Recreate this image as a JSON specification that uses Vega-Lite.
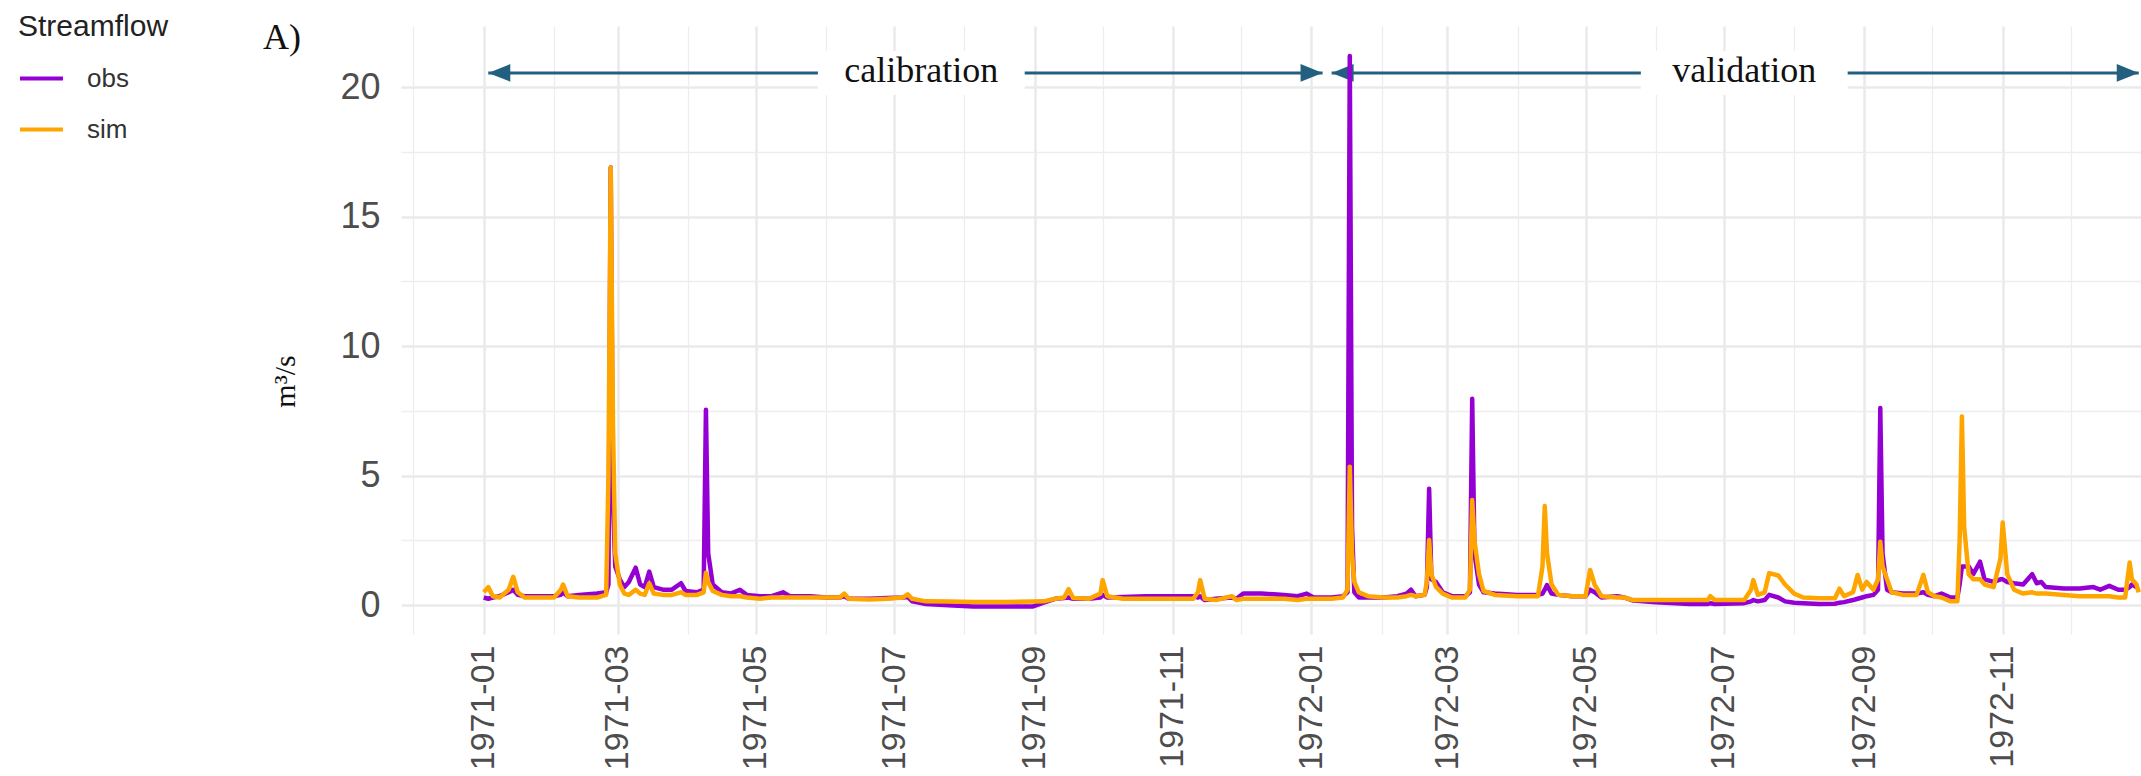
{
  "$schema": "https://vega.github.io/schema/vega-lite/v6.json",
  "width": 1740,
  "height": 608,
  "autosize": {"type": "none"},
  "padding": {"left": 401, "top": 26, "right": 0, "bottom": 142},
  "background": "white",
  "config": {"view": {"stroke": null}, "font": "Liberation Sans"},
  "title": {"text": "A)", "anchor": "start", "frame": "group", "font": "Liberation Serif", "fontSize": 36, "fontWeight": "normal", "color": "#111111", "dx": -138, "dy": 73, "offset": 0, "baseline": "alphabetic"},
  "datasets": {
    "flow": [
      {"date": "1971-01-01", "obs": 0.3, "sim": 0.5},
      {"date": "1971-01-03", "obs": 0.25, "sim": 0.7},
      {"date": "1971-01-05", "obs": 0.3, "sim": 0.35},
      {"date": "1971-01-08", "obs": 0.35, "sim": 0.3},
      {"date": "1971-01-12", "obs": 0.5, "sim": 0.6},
      {"date": "1971-01-14", "obs": 0.6, "sim": 1.1},
      {"date": "1971-01-16", "obs": 0.4, "sim": 0.5},
      {"date": "1971-01-19", "obs": 0.35, "sim": 0.3},
      {"date": "1971-01-25", "obs": 0.35, "sim": 0.3},
      {"date": "1971-02-01", "obs": 0.35, "sim": 0.3},
      {"date": "1971-02-04", "obs": 0.4, "sim": 0.6},
      {"date": "1971-02-05", "obs": 0.5, "sim": 0.8},
      {"date": "1971-02-07", "obs": 0.35, "sim": 0.35},
      {"date": "1971-02-12", "obs": 0.4, "sim": 0.3},
      {"date": "1971-02-20", "obs": 0.45, "sim": 0.3},
      {"date": "1971-02-24", "obs": 0.5, "sim": 0.4},
      {"date": "1971-02-25", "obs": 0.8, "sim": 5.0},
      {"date": "1971-02-26", "obs": 16.9, "sim": 16.9},
      {"date": "1971-02-27", "obs": 4.0, "sim": 7.0},
      {"date": "1971-02-28", "obs": 1.5, "sim": 2.0},
      {"date": "1971-03-02", "obs": 1.0, "sim": 0.8},
      {"date": "1971-03-04", "obs": 0.7, "sim": 0.45},
      {"date": "1971-03-06", "obs": 0.9, "sim": 0.4},
      {"date": "1971-03-09", "obs": 1.45, "sim": 0.6},
      {"date": "1971-03-11", "obs": 0.8, "sim": 0.45},
      {"date": "1971-03-13", "obs": 0.7, "sim": 0.4},
      {"date": "1971-03-15", "obs": 1.3, "sim": 0.85},
      {"date": "1971-03-17", "obs": 0.7, "sim": 0.45},
      {"date": "1971-03-21", "obs": 0.6, "sim": 0.4},
      {"date": "1971-03-25", "obs": 0.6, "sim": 0.4},
      {"date": "1971-03-29", "obs": 0.85, "sim": 0.5},
      {"date": "1971-03-31", "obs": 0.55, "sim": 0.4},
      {"date": "1971-04-05", "obs": 0.5, "sim": 0.4},
      {"date": "1971-04-08", "obs": 0.6, "sim": 0.5},
      {"date": "1971-04-09", "obs": 7.55, "sim": 1.25},
      {"date": "1971-04-10", "obs": 2.0, "sim": 0.9},
      {"date": "1971-04-12", "obs": 0.8, "sim": 0.55},
      {"date": "1971-04-16", "obs": 0.5, "sim": 0.4},
      {"date": "1971-04-20", "obs": 0.45, "sim": 0.35},
      {"date": "1971-04-24", "obs": 0.6, "sim": 0.35},
      {"date": "1971-04-27", "obs": 0.4, "sim": 0.3},
      {"date": "1971-05-03", "obs": 0.35, "sim": 0.25},
      {"date": "1971-05-08", "obs": 0.35, "sim": 0.3},
      {"date": "1971-05-13", "obs": 0.5, "sim": 0.3},
      {"date": "1971-05-16", "obs": 0.35, "sim": 0.3},
      {"date": "1971-05-25", "obs": 0.35, "sim": 0.3},
      {"date": "1971-06-01", "obs": 0.3, "sim": 0.3},
      {"date": "1971-06-07", "obs": 0.3, "sim": 0.3},
      {"date": "1971-06-09", "obs": 0.35, "sim": 0.45},
      {"date": "1971-06-11", "obs": 0.25, "sim": 0.25},
      {"date": "1971-06-20", "obs": 0.25, "sim": 0.22},
      {"date": "1971-06-28", "obs": 0.28, "sim": 0.25},
      {"date": "1971-07-05", "obs": 0.3, "sim": 0.3},
      {"date": "1971-07-07", "obs": 0.32, "sim": 0.42},
      {"date": "1971-07-09", "obs": 0.15, "sim": 0.25},
      {"date": "1971-07-15", "obs": 0.05, "sim": 0.15},
      {"date": "1971-07-25", "obs": 0.0, "sim": 0.14},
      {"date": "1971-08-05", "obs": -0.05, "sim": 0.13},
      {"date": "1971-08-20", "obs": -0.05, "sim": 0.13},
      {"date": "1971-08-31", "obs": -0.05, "sim": 0.14},
      {"date": "1971-09-05", "obs": 0.1, "sim": 0.15},
      {"date": "1971-09-10", "obs": 0.25, "sim": 0.25},
      {"date": "1971-09-14", "obs": 0.28, "sim": 0.3},
      {"date": "1971-09-16", "obs": 0.3, "sim": 0.62},
      {"date": "1971-09-18", "obs": 0.25, "sim": 0.28},
      {"date": "1971-09-25", "obs": 0.25, "sim": 0.25},
      {"date": "1971-09-30", "obs": 0.3, "sim": 0.45},
      {"date": "1971-10-01", "obs": 0.4, "sim": 0.97},
      {"date": "1971-10-03", "obs": 0.3, "sim": 0.35},
      {"date": "1971-10-10", "obs": 0.32, "sim": 0.25},
      {"date": "1971-10-20", "obs": 0.35, "sim": 0.25},
      {"date": "1971-10-30", "obs": 0.35, "sim": 0.25},
      {"date": "1971-11-10", "obs": 0.35, "sim": 0.25},
      {"date": "1971-11-12", "obs": 0.3, "sim": 0.5},
      {"date": "1971-11-13", "obs": 0.35, "sim": 0.97},
      {"date": "1971-11-15", "obs": 0.2, "sim": 0.25},
      {"date": "1971-11-20", "obs": 0.25, "sim": 0.2},
      {"date": "1971-11-27", "obs": 0.3, "sim": 0.35},
      {"date": "1971-11-29", "obs": 0.25, "sim": 0.2},
      {"date": "1971-12-02", "obs": 0.45, "sim": 0.25},
      {"date": "1971-12-10", "obs": 0.45, "sim": 0.25},
      {"date": "1971-12-20", "obs": 0.4, "sim": 0.25},
      {"date": "1971-12-26", "obs": 0.35, "sim": 0.2},
      {"date": "1971-12-30", "obs": 0.45, "sim": 0.25},
      {"date": "1972-01-02", "obs": 0.3, "sim": 0.25},
      {"date": "1972-01-10", "obs": 0.3, "sim": 0.25},
      {"date": "1972-01-15", "obs": 0.35, "sim": 0.3},
      {"date": "1972-01-17", "obs": 0.5, "sim": 0.6},
      {"date": "1972-01-18", "obs": 21.2, "sim": 5.35},
      {"date": "1972-01-19", "obs": 3.0, "sim": 2.0},
      {"date": "1972-01-20", "obs": 0.5, "sim": 0.9},
      {"date": "1972-01-22", "obs": 0.3, "sim": 0.5},
      {"date": "1972-01-26", "obs": 0.3, "sim": 0.35},
      {"date": "1972-02-02", "obs": 0.3, "sim": 0.3},
      {"date": "1972-02-08", "obs": 0.35, "sim": 0.3},
      {"date": "1972-02-12", "obs": 0.45, "sim": 0.35},
      {"date": "1972-02-14", "obs": 0.6, "sim": 0.4},
      {"date": "1972-02-16", "obs": 0.35, "sim": 0.35},
      {"date": "1972-02-20", "obs": 0.4, "sim": 0.4},
      {"date": "1972-02-21", "obs": 0.7, "sim": 0.9},
      {"date": "1972-02-22", "obs": 4.5, "sim": 2.52},
      {"date": "1972-02-23", "obs": 1.0, "sim": 1.2},
      {"date": "1972-02-25", "obs": 0.9, "sim": 0.71},
      {"date": "1972-02-28", "obs": 0.5, "sim": 0.45},
      {"date": "1972-03-03", "obs": 0.35, "sim": 0.3},
      {"date": "1972-03-09", "obs": 0.35, "sim": 0.3},
      {"date": "1972-03-11", "obs": 0.5, "sim": 0.6},
      {"date": "1972-03-12", "obs": 7.97, "sim": 4.06},
      {"date": "1972-03-13", "obs": 2.0, "sim": 2.5},
      {"date": "1972-03-15", "obs": 0.8, "sim": 1.2},
      {"date": "1972-03-17", "obs": 0.5, "sim": 0.55},
      {"date": "1972-03-22", "obs": 0.45, "sim": 0.4},
      {"date": "1972-04-01", "obs": 0.4, "sim": 0.35},
      {"date": "1972-04-10", "obs": 0.4, "sim": 0.35},
      {"date": "1972-04-12", "obs": 0.45, "sim": 1.5},
      {"date": "1972-04-13", "obs": 0.6, "sim": 3.83},
      {"date": "1972-04-14", "obs": 0.78, "sim": 2.0},
      {"date": "1972-04-16", "obs": 0.45, "sim": 0.8},
      {"date": "1972-04-19", "obs": 0.4, "sim": 0.4},
      {"date": "1972-04-25", "obs": 0.35, "sim": 0.35},
      {"date": "1972-05-01", "obs": 0.35, "sim": 0.35},
      {"date": "1972-05-03", "obs": 0.6, "sim": 1.36},
      {"date": "1972-05-05", "obs": 0.5, "sim": 0.8},
      {"date": "1972-05-08", "obs": 0.3, "sim": 0.35},
      {"date": "1972-05-15", "obs": 0.35, "sim": 0.3},
      {"date": "1972-05-18", "obs": 0.3, "sim": 0.3},
      {"date": "1972-05-22", "obs": 0.18, "sim": 0.2},
      {"date": "1972-06-01", "obs": 0.12, "sim": 0.2},
      {"date": "1972-06-16", "obs": 0.05, "sim": 0.2},
      {"date": "1972-06-24", "obs": 0.05, "sim": 0.2},
      {"date": "1972-06-25", "obs": 0.08, "sim": 0.35},
      {"date": "1972-06-27", "obs": 0.05, "sim": 0.2},
      {"date": "1972-07-10", "obs": 0.08, "sim": 0.2},
      {"date": "1972-07-13", "obs": 0.15, "sim": 0.6},
      {"date": "1972-07-14", "obs": 0.2, "sim": 0.97},
      {"date": "1972-07-16", "obs": 0.15, "sim": 0.4},
      {"date": "1972-07-19", "obs": 0.2, "sim": 0.5},
      {"date": "1972-07-21", "obs": 0.4, "sim": 1.24},
      {"date": "1972-07-25", "obs": 0.3, "sim": 1.15},
      {"date": "1972-07-28", "obs": 0.15, "sim": 0.8},
      {"date": "1972-08-01", "obs": 0.1, "sim": 0.45},
      {"date": "1972-08-05", "obs": 0.08, "sim": 0.3},
      {"date": "1972-08-12", "obs": 0.05, "sim": 0.27},
      {"date": "1972-08-19", "obs": 0.06, "sim": 0.27},
      {"date": "1972-08-21", "obs": 0.1, "sim": 0.64},
      {"date": "1972-08-23", "obs": 0.12, "sim": 0.35},
      {"date": "1972-08-27", "obs": 0.2, "sim": 0.5},
      {"date": "1972-08-29", "obs": 0.25, "sim": 1.17},
      {"date": "1972-08-31", "obs": 0.3, "sim": 0.6},
      {"date": "1972-09-02", "obs": 0.35, "sim": 0.9},
      {"date": "1972-09-05", "obs": 0.4, "sim": 0.6},
      {"date": "1972-09-07", "obs": 0.6, "sim": 1.0},
      {"date": "1972-09-08", "obs": 7.61, "sim": 2.45},
      {"date": "1972-09-09", "obs": 2.0, "sim": 1.5},
      {"date": "1972-09-11", "obs": 0.6, "sim": 1.0},
      {"date": "1972-09-13", "obs": 0.5, "sim": 0.5},
      {"date": "1972-09-18", "obs": 0.45, "sim": 0.4},
      {"date": "1972-09-24", "obs": 0.45, "sim": 0.4},
      {"date": "1972-09-27", "obs": 0.5, "sim": 1.17},
      {"date": "1972-09-29", "obs": 0.4, "sim": 0.5},
      {"date": "1972-10-02", "obs": 0.35, "sim": 0.35},
      {"date": "1972-10-05", "obs": 0.45, "sim": 0.3},
      {"date": "1972-10-09", "obs": 0.3, "sim": 0.15},
      {"date": "1972-10-12", "obs": 0.3, "sim": 0.15},
      {"date": "1972-10-13", "obs": 0.8, "sim": 2.5},
      {"date": "1972-10-14", "obs": 1.5, "sim": 7.29},
      {"date": "1972-10-15", "obs": 1.5, "sim": 3.0},
      {"date": "1972-10-17", "obs": 1.5, "sim": 1.2},
      {"date": "1972-10-19", "obs": 1.2, "sim": 1.0},
      {"date": "1972-10-22", "obs": 1.68, "sim": 1.0},
      {"date": "1972-10-24", "obs": 1.0, "sim": 0.8},
      {"date": "1972-10-28", "obs": 0.9, "sim": 0.7},
      {"date": "1972-10-31", "obs": 1.0, "sim": 1.8},
      {"date": "1972-11-01", "obs": 1.0, "sim": 3.19},
      {"date": "1972-11-03", "obs": 0.9, "sim": 1.2},
      {"date": "1972-11-06", "obs": 0.85, "sim": 0.6},
      {"date": "1972-11-10", "obs": 0.8, "sim": 0.45},
      {"date": "1972-11-14", "obs": 1.2, "sim": 0.5},
      {"date": "1972-11-16", "obs": 0.85, "sim": 0.45},
      {"date": "1972-11-18", "obs": 0.9, "sim": 0.45},
      {"date": "1972-11-20", "obs": 0.7, "sim": 0.45},
      {"date": "1972-11-28", "obs": 0.65, "sim": 0.4},
      {"date": "1972-12-05", "obs": 0.65, "sim": 0.35},
      {"date": "1972-12-11", "obs": 0.7, "sim": 0.35},
      {"date": "1972-12-14", "obs": 0.6, "sim": 0.35},
      {"date": "1972-12-18", "obs": 0.75, "sim": 0.35},
      {"date": "1972-12-22", "obs": 0.6, "sim": 0.3},
      {"date": "1972-12-25", "obs": 0.6, "sim": 0.3},
      {"date": "1972-12-27", "obs": 0.7, "sim": 1.65},
      {"date": "1972-12-28", "obs": 0.8, "sim": 1.0},
      {"date": "1972-12-30", "obs": 0.7, "sim": 0.8},
      {"date": "1972-12-31", "obs": 0.7, "sim": 0.5}
    ],
    "periods": [
      {"period": "calibration", "start": "1971-01-03", "end": "1972-01-06", "mid": "1971-07-13"},
      {"period": "validation", "start": "1972-01-10", "end": "1972-12-31", "mid": "1972-07-10"}
    ]
  },
  "resolve": {"axis": {"x": "independent", "y": "independent"}},
  "layer": [
    {
      "data": {"name": "flow"},
      "mark": {"type": "line", "opacity": 0},
      "encoding": {
        "x": {"field": "date", "type": "temporal",
          "scale": {"type": "utc", "domain": [{"year": 1970, "month": 11, "date": 25, "hours": 12, "utc": true}, {"year": 1973, "month": 1, "date": 1, "utc": true}]},
          "axis": {"orient": "bottom", "labels": false, "ticks": false, "domain": false, "title": null, "grid": true, "gridColor": "#EDEDED", "gridWidth": 1.3,
            "values": [{"year": 1970, "month": 12, "date": 1, "utc": true}, {"year": 1971, "month": 2, "date": 1, "utc": true}, {"year": 1971, "month": 4, "date": 1, "utc": true}, {"year": 1971, "month": 6, "date": 1, "utc": true}, {"year": 1971, "month": 8, "date": 1, "utc": true}, {"year": 1971, "month": 10, "date": 1, "utc": true}, {"year": 1971, "month": 12, "date": 1, "utc": true}, {"year": 1972, "month": 2, "date": 1, "utc": true}, {"year": 1972, "month": 4, "date": 1, "utc": true}, {"year": 1972, "month": 6, "date": 1, "utc": true}, {"year": 1972, "month": 8, "date": 1, "utc": true}, {"year": 1972, "month": 10, "date": 1, "utc": true}, {"year": 1972, "month": 12, "date": 1, "utc": true}]}},
        "y": {"field": "obs", "type": "quantitative",
          "scale": {"domain": [-1.11, 22.36], "nice": false, "zero": false},
          "axis": {"orient": "left", "labels": false, "ticks": false, "domain": false, "title": null, "grid": true, "gridColor": "#EDEDED", "gridWidth": 1.3, "values": [2.5, 7.5, 12.5, 17.5]}}
      }
    },
    {
      "data": {"name": "periods"},
      "mark": {"type": "rule", "color": "#21617F", "strokeWidth": 3},
      "encoding": {
        "x": {"field": "start", "type": "temporal", "axis": null},
        "x2": {"field": "end"},
        "y": {"datum": 20.55, "type": "quantitative", "axis": null}
      }
    },
    {
      "data": {"name": "periods"},
      "mark": {"type": "point", "filled": true, "color": "#21617F", "opacity": 1, "strokeWidth": 0, "size": 484, "shape": "M2,-0.8L0,0L2,0.8Z"},
      "encoding": {
        "x": {"field": "start", "type": "temporal", "axis": null},
        "y": {"datum": 20.55, "type": "quantitative", "axis": null}
      }
    },
    {
      "data": {"name": "periods"},
      "mark": {"type": "point", "filled": true, "color": "#21617F", "opacity": 1, "strokeWidth": 0, "size": 484, "shape": "M-2,-0.8L0,0L-2,0.8Z"},
      "encoding": {
        "x": {"field": "end", "type": "temporal", "axis": null},
        "y": {"datum": 20.55, "type": "quantitative", "axis": null}
      }
    },
    {
      "data": {"name": "periods"},
      "mark": {"type": "point", "filled": true, "color": "white", "opacity": 1, "strokeWidth": 0, "size": 1936, "shape": "M-4.7,-1H4.7V1H-4.7Z"},
      "encoding": {
        "x": {"field": "mid", "type": "temporal", "axis": null},
        "y": {"datum": 20.55, "type": "quantitative", "axis": null}
      }
    },
    {
      "data": {"name": "periods"},
      "mark": {"type": "text", "font": "Liberation Serif", "fontSize": 36, "color": "#111111", "align": "center", "baseline": "middle", "dy": -2},
      "encoding": {
        "x": {"field": "mid", "type": "temporal", "axis": null},
        "y": {"datum": 20.55, "type": "quantitative", "axis": null},
        "text": {"field": "period"}
      }
    },
    {
      "data": {"name": "flow"},
      "transform": [{"fold": ["obs", "sim"], "as": ["series", "q"]}],
      "mark": {"type": "line", "strokeWidth": 4.5, "strokeJoin": "round", "clip": true},
      "encoding": {
        "x": {"field": "date", "type": "temporal",
          "axis": {"orient": "bottom", "format": "%Y-%m", "labelAngle": -90, "labelFont": "Liberation Sans", "labelFontSize": 34, "labelColor": "#4D4D4D", "labelPadding": 11, "ticks": false, "tickSize": 0, "domain": false, "title": null, "grid": true, "gridColor": "#EAEAEA", "gridWidth": 2.5,
            "values": [{"year": 1971, "month": 1, "date": 1, "utc": true}, {"year": 1971, "month": 3, "date": 1, "utc": true}, {"year": 1971, "month": 5, "date": 1, "utc": true}, {"year": 1971, "month": 7, "date": 1, "utc": true}, {"year": 1971, "month": 9, "date": 1, "utc": true}, {"year": 1971, "month": 11, "date": 1, "utc": true}, {"year": 1972, "month": 1, "date": 1, "utc": true}, {"year": 1972, "month": 3, "date": 1, "utc": true}, {"year": 1972, "month": 5, "date": 1, "utc": true}, {"year": 1972, "month": 7, "date": 1, "utc": true}, {"year": 1972, "month": 9, "date": 1, "utc": true}, {"year": 1972, "month": 11, "date": 1, "utc": true}]}},
        "y": {"field": "q", "type": "quantitative",
          "axis": {"orient": "left", "values": [0, 5, 10, 15, 20], "labelFont": "Liberation Sans", "labelFontSize": 36, "labelColor": "#4D4D4D", "labelPadding": 21, "ticks": false, "tickSize": 0, "domain": false, "grid": true, "gridColor": "#EAEAEA", "gridWidth": 2.5,
            "title": "m³/s", "titleFont": "Liberation Serif", "titleFontSize": 30, "titleFontWeight": "normal", "titleColor": "#111111", "titleAngle": -90, "titleX": -116, "titleY": 355, "titleAlign": "center", "titleBaseline": "middle"}},
        "color": {"field": "series", "type": "nominal",
          "scale": {"domain": ["obs", "sim"], "range": ["#9400D3", "#FFA500"]},
          "legend": {"orient": "none", "legendX": -383, "legendY": -14, "title": "Streamflow", "titleFont": "Liberation Sans", "titleFontSize": 30, "titleFontWeight": "normal", "titleColor": "#222222", "titlePadding": 13, "labelFont": "Liberation Sans", "labelFontSize": 26, "labelColor": "#333333", "symbolType": "stroke", "symbolSize": 1849, "symbolStrokeWidth": 4, "labelOffset": 22, "rowPadding": 14}}
      }
    }
  ]
}
